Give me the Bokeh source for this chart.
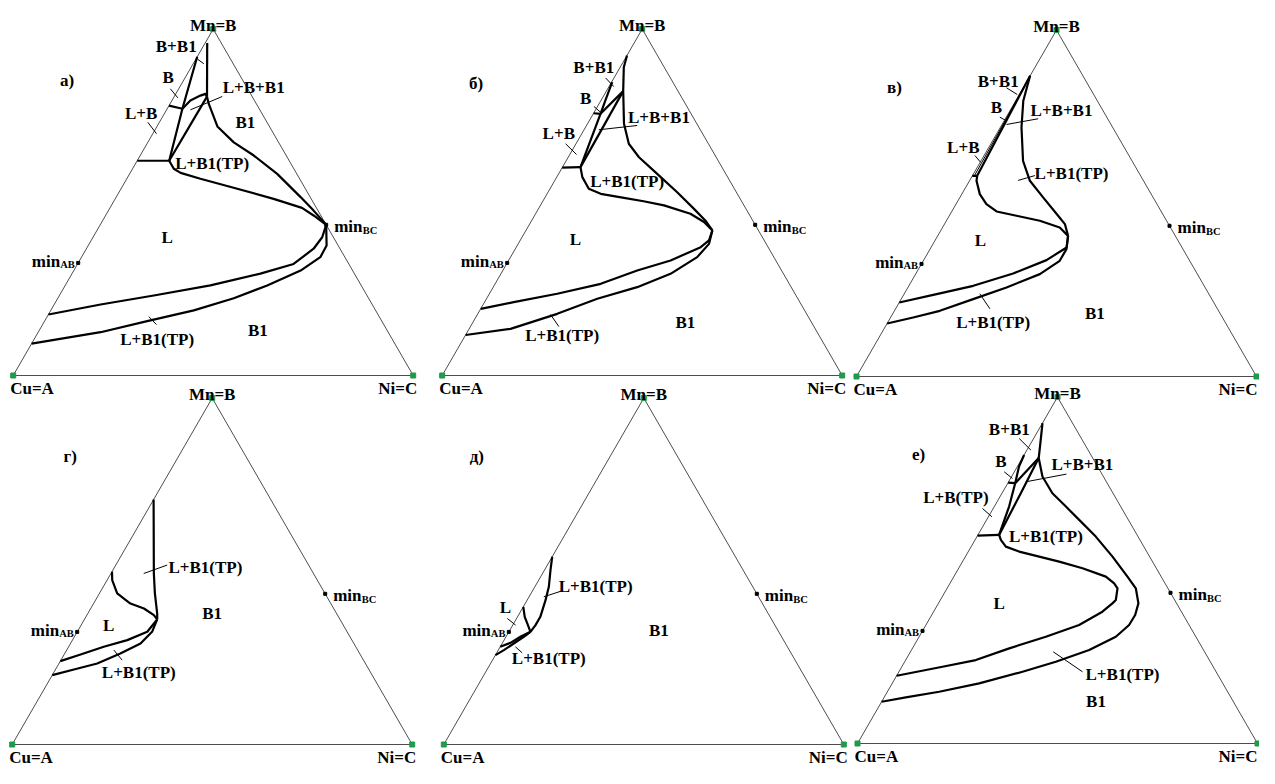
import math
from bokeh.plotting import figure
from bokeh.models import Range1d, ColumnDataSource
from bokeh.embed import file_html
from bokeh.resources import INLINE
from bokeh.core.properties import value

# ------------------------------------------------------------------
# DATA  (all compositions are ternary mole fractions: (x_Mn, x_Ni))
# ------------------------------------------------------------------
vertex_labels = ["Cu=A", "Mn=B", "Ni=C"]
panel_letters = ["а)", "б)", "в)", "г)", "д)", "е)"]
MIN_AB = (0.325, 0.0)
MIN_BC = (0.435, 0.565)

# ---- panel а ----
a_b_boundary = [(0.92, 0.0), (0.770, 0.038), (0.62, 0.08)]
a_b_liquid = [(0.779, 0.0), (0.770, 0.038)]
a_tie_arc = [(0.770, 0.038), (0.794, 0.046), (0.808, 0.064), (0.813, 0.074), (0.805, 0.082)]
a_b1_liquid = [(0.805, 0.082), (0.62, 0.08)]
a_b1_solvus = [(0.96, 0.005), (0.805, 0.082)]
a_horiz = [(0.62, 0.0), (0.62, 0.08)]
a_liq_up = [(0.62, 0.08), (0.597, 0.103), (0.585, 0.126), (0.568, 0.184), (0.542, 0.280),
            (0.510, 0.396), (0.484, 0.480), (0.462, 0.520), (0.435, 0.565)]
a_sol_up = [(0.805, 0.082), (0.784, 0.097), (0.719, 0.151), (0.673, 0.215), (0.635, 0.284),
            (0.582, 0.369), (0.515, 0.461), (0.476, 0.513), (0.435, 0.565)]
a_liq_low = [(0.435, 0.565), (0.399, 0.573), (0.366, 0.568), (0.322, 0.540), (0.294, 0.471),
             (0.260, 0.363), (0.231, 0.236), (0.205, 0.116), (0.176, 0.0)]
a_sol_low = [(0.435, 0.565), (0.375, 0.596), (0.3415, 0.597), (0.303, 0.567), (0.260, 0.505),
             (0.223, 0.440), (0.188, 0.3575), (0.157, 0.2565), (0.125, 0.156), (0.092, 0.0)]

# ---- panel б ----
b_b_boundary = [(0.847, 0.0015), (0.794, 0.011), (0.7555, 0.018), (0.6015, 0.045)]
b_b_liquid = [(0.757, 0.0), (0.7555, 0.018)]
b_tie = [(0.7555, 0.018), (0.821, 0.042)]
b_b1_liquid = [(0.821, 0.042), (0.6015, 0.045)]
b_b1_solvus = [(0.924, 0.0), (0.890, 0.009), (0.821, 0.042)]
b_horiz = [(0.60, 0.0), (0.6015, 0.045)]
b_liq_up = [(0.6015, 0.045), (0.5727, 0.064), (0.539, 0.097), (0.5245, 0.134), (0.513, 0.198),
            (0.503, 0.252), (0.491, 0.309), (0.467, 0.387), (0.443, 0.433), (0.419, 0.466)]
b_sol_up = [(0.821, 0.042), (0.727, 0.091), (0.669, 0.132), (0.630, 0.177), (0.582, 0.2465),
            (0.529, 0.323), (0.481, 0.389), (0.4475, 0.434), (0.419, 0.466)]
b_liq_low = [(0.419, 0.466), (0.390, 0.472), (0.3705, 0.461), (0.332, 0.405), (0.303, 0.336),
             (0.2647, 0.264), (0.236, 0.1695), (0.2117, 0.073), (0.1925, 0.0)]
b_sol_low = [(0.419, 0.466), (0.380, 0.477), (0.3417, 0.4666), (0.2935, 0.424), (0.255, 0.36),
             (0.2214, 0.277), (0.178, 0.1985), (0.1347, 0.1035), (0.117, 0.0)]

# ---- panel в ----
c_three = [(0.868, 0.0), (0.5794, 0.012)]
c_thin = [(0.868, 0.0), (0.5794, 0.005)]
c_horiz = [(0.579, 0.0), (0.5794, 0.012)]
c_sol_up = [(0.868, 0.0), (0.796, 0.019), (0.719, 0.053), (0.6227, 0.105), (0.565, 0.151),
            (0.517, 0.208), (0.469, 0.266), (0.44, 0.301), (0.406, 0.326)]
c_liq_up = [(0.5794, 0.012), (0.565, 0.0175), (0.5265, 0.045), (0.4976, 0.076), (0.4764, 0.112),
            (0.464, 0.168), (0.4495, 0.2336), (0.430, 0.293), (0.406, 0.326)]
c_liq_low = [(0.406, 0.326), (0.3725, 0.339), (0.336, 0.307), (0.2974, 0.243), (0.2618, 0.161),
             (0.2358, 0.074), (0.2137, 0.0)]
c_sol_low = [(0.406, 0.326), (0.3677, 0.341), (0.334, 0.341), (0.2955, 0.3106), (0.257, 0.2465),
             (0.2233, 0.180), (0.1896, 0.1135), (0.1704, 0.0565), (0.153, 0.0)]

# ---- panel г ----
d_sol = [(0.707, 0.0), (0.4937, 0.1073), (0.436, 0.1387), (0.378, 0.1735), (0.361, 0.182)]
d_liq = [(0.499, 0.0), (0.4745, 0.0128), (0.436, 0.0445), (0.407, 0.092), (0.3927, 0.133),
         (0.3734, 0.1675), (0.361, 0.182)]
d_liq_low = [(0.361, 0.182), (0.3253, 0.175), (0.3013, 0.137), (0.282, 0.088), (0.26, 0.041),
             (0.2406, 0.0)]
d_sol_low = [(0.361, 0.182), (0.3253, 0.187), (0.2916, 0.175), (0.2628, 0.139), (0.234, 0.0955),
             (0.2166, 0.046), (0.2002, 0.0)]

# ---- panel д ----
e_sol = [(0.542, 0.0), (0.5034, 0.015), (0.4552, 0.035), (0.4167, 0.046), (0.3686, 0.057),
         (0.3446, 0.057), (0.3253, 0.054)]
e_liq = [(0.3975, 0.0), (0.3686, 0.018), (0.3494, 0.034), (0.3253, 0.054)]
e_liq_low = [(0.3253, 0.054), (0.311, 0.036), (0.2935, 0.02), (0.282, 0.0)]
e_sol_low = [(0.3253, 0.054), (0.311, 0.0445), (0.2916, 0.029), (0.2724, 0.014), (0.258, 0.0)]

# ---- panel е ----
f_b1_solvus = [(0.925, 0.0), (0.862, 0.0257), (0.824, 0.041)]
f_b_liquid = [(0.753, 0.0), (0.7514, 0.0185)]
f_b_upper = [(0.833, 0.0), (0.7996, 0.004), (0.7514, 0.0185)]
f_tie = [(0.7514, 0.0185), (0.824, 0.041)]
f_b_lower = [(0.7514, 0.0185), (0.684, 0.037), (0.602, 0.053)]
f_b1_liquid = [(0.824, 0.041), (0.7225, 0.047), (0.602, 0.053)]
f_horiz = [(0.6, 0.0), (0.602, 0.053)]
f_liq = [(0.602, 0.053), (0.5877, 0.0645), (0.5684, 0.0866), (0.554, 0.127), (0.5395, 0.1845),
         (0.525, 0.2417), (0.5058, 0.3096), (0.4817, 0.38), (0.4624, 0.4105), (0.448, 0.426),
         (0.4143, 0.4387), (0.4046, 0.435), (0.3805, 0.422), (0.342, 0.383), (0.3083, 0.3167),
         (0.2746, 0.242), (0.2408, 0.1754), (0.2216, 0.1017), (0.1956, 0.0)]
f_sol = [(0.824, 0.041), (0.7707, 0.077), (0.7225, 0.126), (0.684, 0.179), (0.6455, 0.2315),
         (0.5973, 0.297), (0.5395, 0.3678), (0.4817, 0.434), (0.448, 0.4718), (0.4046, 0.5),
         (0.3709, 0.5087), (0.342, 0.508), (0.3083, 0.4917), (0.2697, 0.4443), (0.236, 0.3778),
         (0.2071, 0.309), (0.1734, 0.2175), (0.1493, 0.1295), (0.133, 0.0543), (0.1204, 0.0)]

# ---- phase-region labels (text, x_Mn, x_Ni) ----
a_labels = [("B+B1", 0.950, -0.0675), ("B", 0.861, -0.043), ("L+B+B1", 0.8305, 0.186),
            ("L+B", 0.757, -0.0586), ("B1", 0.731, 0.215), ("L+B1(TP)", 0.611, 0.192),
            ("L", 0.3975, 0.186), ("B1", 0.13, 0.5465), ("L+B1(TP)", 0.103, 0.3085)]
b_labels = [("B+B1", 0.890, -0.066), ("B", 0.799, -0.041), ("L+B+B1", 0.7457, 0.169),
            ("L+B", 0.698, -0.0575), ("L+B1(TP)", 0.561, 0.182), ("L", 0.3917, 0.137),
            ("B1", 0.154, 0.531), ("L+B1(TP)", 0.1155, 0.242)]
c_labels = [("B+B1", 0.8525, -0.072), ("B", 0.7757, -0.038), ("L+B+B1", 0.768, 0.1285),
            ("L+B", 0.662, -0.064), ("L+B1(TP)", 0.587, 0.244), ("L", 0.3926, 0.1137),
            ("B1", 0.1827, 0.5046), ("L+B1(TP)", 0.1568, 0.2633)]
d_labels = [("L+B1(TP)", 0.510, 0.228), ("B1", 0.378, 0.311), ("L", 0.3447, 0.069),
            ("L+B1(TP)", 0.207, 0.213)]
e_labels = [("L+B1(TP)", 0.455, 0.152), ("L", 0.3955, -0.044), ("B1", 0.330, 0.3725),
            ("L+B1(TP)", 0.248, 0.1385)]
f_labels = [("B+B1", 0.905, -0.073), ("B", 0.813, -0.048), ("L+B+B1", 0.8066, 0.159),
            ("L+B(TP)", 0.710, -0.109), ("L+B1(TP)", 0.5967, 0.1726), ("L", 0.404, 0.152),
            ("L+B1(TP)", 0.2003, 0.5623), ("B1", 0.1204, 0.536)]

# ---- leader ticks pointing labels to their regions ----
a_leaders = [[(0.914, 0.003), (0.90, 0.0265)], [(0.8277, -0.021), (0.8017, 0.0107)],
             [(0.8054, 0.12), (0.767, 0.0597)], [(0.731, -0.029), (0.698, 0.0093)],
             [(0.170, 0.254), (0.147, 0.2846)]]
b_leaders = [[(0.859, -0.021), (0.834, 0.012)], [(0.7766, -0.009), (0.760, 0.0158)],
             [(0.7217, 0.1266), (0.7093, 0.0368)], [(0.669, -0.026), (0.638, 0.0168)],
             [(0.176, 0.1828), (0.1415, 0.2208)]]
c_leaders = [[(0.8334, -0.0417), (0.814, -0.005)], [(0.7486, -0.016), (0.739, 0.004)],
             [(0.744, 0.082), (0.7275, 0.0113)], [(0.638, -0.023), (0.6187, 0.0007)],
             [(0.580, 0.156), (0.566, 0.121)], [(0.2387, 0.189), (0.1954, 0.2358)]]
d_leaders = [[(0.4936, 0.082), (0.518, 0.1285)], [(0.2725, 0.118), (0.2436, 0.153)]]
e_leaders = [[(0.4264, 0.0368), (0.4437, 0.0741)], [(0.3637, -0.023), (0.3447, 0.007)],
             [(0.282, 0.038), (0.2647, 0.0636)]]
f_leaders = [[(0.8805, -0.036), (0.847, 0.01)], [(0.7843, -0.0254), (0.765, 0.005)],
             [(0.7777, 0.1336), (0.7555, 0.0432)], [(0.6784, -0.0267), (0.6544, 0.0088)],
             [(0.2647, 0.357), (0.207, 0.459)]]

# ------------------------------------------------------------------
# LAYOUT / STYLE
# ------------------------------------------------------------------
SIDE = 400.0
HEIGHT = SIDE * math.sqrt(3) / 2.0
FONT = value("Liberation Serif")
FS = "17px"
FS_SUB = "10.5px"

panels = [
    dict(origin=(12.7, 375.0), letter=(54, -295),
         thick=[a_b_boundary, a_b_liquid, a_tie_arc, a_b1_liquid, a_b1_solvus, a_horiz,
                a_liq_up, a_sol_up, a_liq_low, a_sol_low],
         thin=[], labels=a_labels, leaders=a_leaders),
    dict(origin=(441.7, 375.0), letter=(34, -292),
         thick=[b_b_boundary, b_b_liquid, b_tie, b_b1_liquid, b_b1_solvus, b_horiz,
                b_liq_up, b_sol_up, b_liq_low, b_sol_low],
         thin=[], labels=b_labels, leaders=b_leaders),
    dict(origin=(856.0, 376.0), letter=(38, -289),
         thick=[c_three, c_horiz, c_sol_up, c_liq_up, c_liq_low, c_sol_low],
         thin=[c_thin], labels=c_labels, leaders=c_leaders),
    dict(origin=(11.7, 744.0), letter=(58, -288),
         thick=[d_sol, d_liq, d_liq_low, d_sol_low],
         thin=[], labels=d_labels, leaders=d_leaders),
    dict(origin=(443.3, 744.0), letter=(33, -288),
         thick=[e_sol, e_liq, e_liq_low, e_sol_low],
         thin=[], labels=e_labels, leaders=e_leaders),
    dict(origin=(857.0, 743.0), letter=(61, -289),
         thick=[f_b1_solvus, f_b_liquid, f_b_upper, f_tie, f_b_lower, f_b1_liquid, f_horiz,
                f_liq, f_sol],
         thin=[], labels=f_labels, leaders=f_leaders),
]


def project(points, origin):
    ox, oy = origin
    xs = [ox + SIDE * (ni + mn / 2.0) for mn, ni in points]
    ys = [oy - HEIGHT * mn for mn, ni in points]
    return xs, ys


W, Hpx = 1259, 768
p = figure(width=W, height=Hpx, x_range=Range1d(0, W), y_range=Range1d(Hpx, 0),
           output_backend="svg", toolbar_location=None, min_border=0,
           x_axis_location=None, y_axis_location=None)
p.grid.visible = False
p.outline_line_color = None
p.background_fill_color = "white"
p.border_fill_color = "white"

edge_xs, edge_ys = [], []
thick_xs, thick_ys = [], []
thin_xs, thin_ys = [], []
lead_xs, lead_ys = [], []
vert_x, vert_y = [], []
min_x, min_y = [], []
lab = dict(x=[], y=[], t=[])
lab_left = dict(x=[], y=[], t=[])
lab_right = dict(x=[], y=[], t=[])
lab_center_base = dict(x=[], y=[], t=[])
sub_left = dict(x=[], y=[], t=[])
min_right = dict(x=[], y=[], t=[])

for i, pn in enumerate(panels):
    o = pn["origin"]
    tri = [(0.0, 0.0), (1.0, 0.0), (0.0, 1.0), (0.0, 0.0)]
    xs, ys = project(tri, o)
    edge_xs.append(xs)
    edge_ys.append(ys)
    for crv in pn["thick"]:
        xs, ys = project(crv, o)
        thick_xs.append(xs)
        thick_ys.append(ys)
    for crv in pn["thin"]:
        xs, ys = project(crv, o)
        thin_xs.append(xs)
        thin_ys.append(ys)
    for seg in pn["leaders"]:
        xs, ys = project(seg, o)
        lead_xs.append(xs)
        lead_ys.append(ys)
    vx, vy = project([(0.0, 0.0), (1.0, 0.0), (0.0, 1.0)], o)
    vert_x += vx
    vert_y += vy
    mx, my = project([MIN_AB, MIN_BC], o)
    min_x += mx
    min_y += my
    for t, mn, ni in pn["labels"]:
        xs, ys = project([(mn, ni)], o)
        lab["x"].append(xs[0]); lab["y"].append(ys[0]); lab["t"].append(t)
    ax, ay = vx[0], vy[0]
    bx, by = vx[1], vy[1]
    cx, cy = vx[2], vy[2]
    lab_left["x"].append(ax - 3); lab_left["y"].append(ay + 13); lab_left["t"].append(vertex_labels[0])
    lab_center_base["x"].append(bx); lab_center_base["y"].append(by - 4); lab_center_base["t"].append(vertex_labels[1])
    lab_right["x"].append(min(cx + 4, W - 2)); lab_right["y"].append(cy + 13); lab_right["t"].append(vertex_labels[2])
    lab["x"].append(ax + pn["letter"][0]); lab["y"].append(ay + pn["letter"][1]); lab["t"].append(panel_letters[i])
    min_right["x"].append(mx[0] - 18); min_right["y"].append(my[0] - 1); min_right["t"].append("min")
    sub_left["x"].append(mx[0] - 18); sub_left["y"].append(my[0] + 2); sub_left["t"].append("AB")
    lab_left["x"].append(mx[1] + 8); lab_left["y"].append(my[1] + 2); lab_left["t"].append("min")
    sub_left["x"].append(mx[1] + 36.5); sub_left["y"].append(my[1] + 5.5); sub_left["t"].append("BC")

p.multi_line(edge_xs, edge_ys, line_color="#4d4d4d", line_width=1)
p.multi_line(thin_xs, thin_ys, line_color="black", line_width=1)
p.multi_line(thick_xs, thick_ys, line_color="black", line_width=2.2, line_join="round")
p.multi_line(lead_xs, lead_ys, line_color="black", line_width=1)
p.scatter(vert_x, vert_y, marker="square", size=5, color="#1e9b4b")
p.scatter(min_x, min_y, marker="square", size=3, color="black")

common = dict(text_font=FONT, text_font_style="bold", text_color="black")
p.text(x="x", y="y", text="t", source=ColumnDataSource(lab), text_font_size=FS,
       text_align="center", text_baseline="middle", **common)
p.text(x="x", y="y", text="t", source=ColumnDataSource(lab_left), text_font_size=FS,
       text_align="left", text_baseline="alphabetic", **common)
p.text(x="x", y="y", text="t", source=ColumnDataSource(lab_right), text_font_size=FS,
       text_align="right", text_baseline="alphabetic", **common)
p.text(x="x", y="y", text="t", source=ColumnDataSource(lab_center_base), text_font_size=FS,
       text_align="center", text_baseline="alphabetic", **common)
p.text(x="x", y="y", text="t", source=ColumnDataSource(min_right), text_font_size=FS,
       text_align="right", text_baseline="alphabetic", **common)
p.text(x="x", y="y", text="t", source=ColumnDataSource(sub_left), text_font_size=FS_SUB,
       text_align="left", text_baseline="alphabetic", **common)

open("out.html", "w").write(file_html(p, INLINE))
